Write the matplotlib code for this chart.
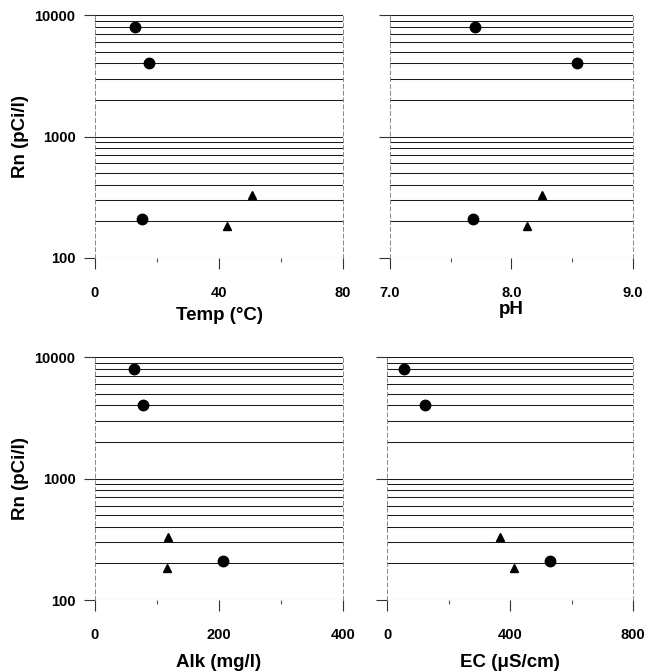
import matplotlib
matplotlib.use("Agg")
import matplotlib.pyplot as plt
from matplotlib.ticker import FixedLocator, LogLocator, NullFormatter

plt.rcParams['font.family'] = ['Liberation Sans', 'DejaVu Sans']
plt.rcParams['font.weight'] = 'bold'

# Data: (x, Rn) for circles and triangles in each panel
temp_circ_x = [13, 17.5, 15]
temp_circ_y = [8000, 4000, 210]
temp_tri_x = [50.5, 42.5]
temp_tri_y = [330, 185]

ph_circ_x = [7.7, 8.54, 7.68]
ph_circ_y = [8000, 4000, 210]
ph_tri_x = [8.25, 8.13]
ph_tri_y = [330, 185]

alk_circ_x = [63, 78, 206]
alk_circ_y = [8000, 4000, 210]
alk_tri_x = [118, 116]
alk_tri_y = [330, 185]

ec_circ_x = [56, 123, 531]
ec_circ_y = [8000, 4000, 210]
ec_tri_x = [368, 412]
ec_tri_y = [330, 185]

y_ticks = [100, 1000, 10000]
y_ticklabels = ['100', '1000', '10000']

panels = [
    dict(cx=temp_circ_x, cy=temp_circ_y, tx=temp_tri_x, ty=temp_tri_y,
         xlim=(0, 80), major=[0, 40, 80], minor=[20, 60], labels=['0', '40', '80'],
         xlabel='Temp (\u00b0C)', pos=[0.1457, 0.6155, 0.3804, 0.362], ylab=True, lp=5),
    dict(cx=ph_circ_x, cy=ph_circ_y, tx=ph_tri_x, ty=ph_tri_y,
         xlim=(7.0, 9.0), major=[7.0, 8.0, 9.0], minor=[7.5, 8.5], labels=['7.0', '8.0', '9.0'],
         xlabel='pH', pos=[0.598, 0.6155, 0.373, 0.362], ylab=False, lp=1),
    dict(cx=alk_circ_x, cy=alk_circ_y, tx=alk_tri_x, ty=alk_tri_y,
         xlim=(0, 400), major=[0, 200, 400], minor=[100, 300], labels=['0', '200', '400'],
         xlabel='Alk (mg/l)', pos=[0.1457, 0.1058, 0.3804, 0.362], ylab=True, lp=9),
    dict(cx=ec_circ_x, cy=ec_circ_y, tx=ec_tri_x, ty=ec_tri_y,
         xlim=(0, 800), major=[0, 400, 800], minor=[200, 600], labels=['0', '400', '800'],
         xlabel='EC (\u03bcS/cm)', pos=[0.594, 0.1058, 0.377, 0.362], ylab=False, lp=9),
]

fig = plt.figure(figsize=(6.52, 6.71), dpi=100)

for p in panels:
    ax = fig.add_axes(p['pos'])
    ax.set_yscale('log')
    ax.set_ylim(100, 10000)
    ax.set_xlim(*p['xlim'])
    ax.yaxis.set_major_locator(FixedLocator(y_ticks))
    ax.yaxis.set_minor_locator(LogLocator(base=10, subs=range(2, 10)))
    ax.yaxis.set_minor_formatter(NullFormatter())
    if p['ylab']:
        ax.set_yticklabels(y_ticklabels, fontsize=10.5, fontweight='bold')
        ax.set_ylabel('Rn (pCi/l)', fontsize=13.5, fontweight='bold', labelpad=4)
    else:
        ax.set_yticklabels([])
    ax.tick_params(axis='y', which='major', direction='out', length=8, width=0.8,
                   color='#333333', pad=6)
    ax.tick_params(axis='y', which='minor', length=0)
    ax.grid(True, which='both', axis='y', color='#1a1a1a', linewidth=0.75)

    ax.xaxis.set_major_locator(FixedLocator(p['major']))
    ax.xaxis.set_minor_locator(FixedLocator(p['minor']))
    ax.set_xticklabels(p['labels'], fontsize=10.5, fontweight='bold')
    ax.tick_params(axis='x', which='major', direction='out', length=8, width=0.8,
                   color='#333333', pad=12)
    ax.tick_params(axis='x', which='minor', direction='out', length=3, width=0.8,
                   color='#555555')
    ax.set_xlabel(p['xlabel'], fontsize=13.5, fontweight='bold', labelpad=p['lp'])

    for s in ['top', 'bottom']:
        ax.spines[s].set_visible(False)
    for s in ['left', 'right']:
        ax.spines[s].set_color('#888888')
        ax.spines[s].set_linewidth(0.7)
        ax.spines[s].set_linestyle((0, (4, 3)))

    ax.plot(p['cx'], p['cy'], 'o', color='black', markersize=7.5, linestyle='none',
            clip_on=False, zorder=5)
    ax.plot(p['tx'], p['ty'], '^', color='black', markersize=6, linestyle='none',
            clip_on=False, zorder=5)

fig.savefig('out.png', dpi=100)
